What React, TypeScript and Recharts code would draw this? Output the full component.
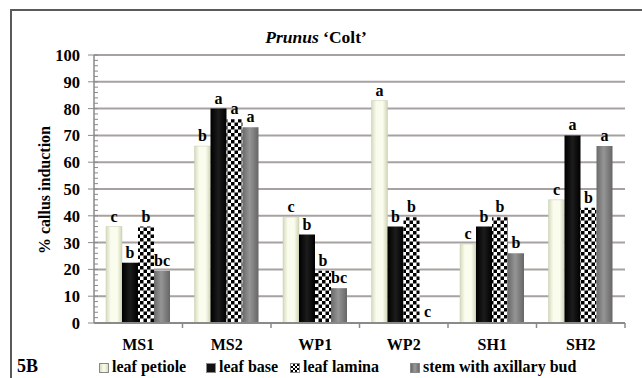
import { Bar, BarChart, CartesianGrid, LabelList, XAxis, YAxis } from 'recharts'

const categories = ['MS1', 'MS2', 'WP1', 'WP2', 'SH1', 'SH2']
const petiole = [36, 66, 39.5, 83, 29.5, 46]
const base = [22.5, 80, 33, 36, 36, 70]
const lamina = [36, 76, 19.5, 39.5, 39.5, 43]
const stem = [19.5, 73, 13, 0, 26, 66]
const petioleSig = ['c', 'b', 'c', 'a', 'c', 'c']
const baseSig = ['b', 'a', 'b', 'b', 'b', 'a']
const laminaSig = ['b', 'a', 'b', 'b', 'b', 'b']
const stemSig = ['bc', 'a', 'bc', 'c', 'b', 'a']
const yTicks = Array.from({ length: 51 }, (_, i) => i * 2)
const gridValues = [0, 10, 20, 30, 40, 50, 60, 70, 80, 90, 100]

const W = 642
const H = 378
const PLOT_LEFT = 94
const PLOT_RIGHT = 625
const PLOT_BOTTOM = 323
const X_AXIS_H = 30
const STEP = (PLOT_RIGHT - PLOT_LEFT) / categories.length
const FONT = '"Liberation Serif", "DejaVu Serif", serif'

const data = categories.map((name, i) => ({
  name,
  petiole: petiole[i],
  base: base[i],
  lamina: lamina[i],
  stem: stem[i],
  petioleSig: petioleSig[i],
  baseSig: baseSig[i],
  laminaSig: laminaSig[i],
  stemSig: stemSig[i],
}))

const labelStyle = { fill: '#000', fontWeight: 700, fontSize: 16, fontFamily: FONT }

function YTick({ x, y, payload }: any) {
  const major = payload.value % 10 === 0
  return (
    <g>
      <line x1={major ? x - 6 : x} x2={x + 4} y1={y} y2={y} stroke="#8a8a8a" strokeWidth={1} />
      {major && (
        <text x={x - 14} y={y} dy={6} textAnchor="end" style={{ ...labelStyle, fontSize: 16.5 }}>
          {payload.value}
        </text>
      )}
    </g>
  )
}

function XTick({ x, y, payload }: any) {
  return (
    <g>
      <line x1={x + STEP / 2} x2={x + STEP / 2} y1={y} y2={y + 5} stroke="#8a8a8a" strokeWidth={1.5} />
      <text x={x} y={y + 27} textAnchor="middle" style={labelStyle}>
        {payload.value}
      </text>
    </g>
  )
}

function Swatch({ kind }: { kind: string }) {
  const bg: Record<string, string> = {
    petiole: 'linear-gradient(90deg,#d9ddc0,#fbfdf0,#d9ddc0)',
    base: '#111',
    lamina: 'repeating-conic-gradient(#000 0 25%, #fff 0 50%) 0 0/4px 4px',
    stem: 'linear-gradient(90deg,#6a6a6a,#9a9a9a,#6a6a6a)',
  }
  return (
    <span
      style={{
        display: 'inline-block',
        width: 8,
        height: 8,
        marginRight: 3,
        background: bg[kind],
        border: '1px solid #888',
        verticalAlign: 'middle',
      }}
    />
  )
}

const legendItems = [
  { kind: 'petiole', label: 'leaf petiole', left: 99 },
  { kind: 'base', label: 'leaf base', left: 206 },
  { kind: 'lamina', label: 'leaf lamina', left: 290 },
  { kind: 'stem', label: 'stem with axillary bud', left: 410 },
]

export default function App() {
  return (
    <div style={{ position: 'absolute', left: 0, top: 0, width: W, height: H, background: '#fff', overflow: 'hidden', fontFamily: FONT }}>
      <div style={{ position: 'absolute', left: 10, top: 9, width: 700, height: 400, borderTop: '2px solid #5a5a5a', borderLeft: '2px solid #5a5a5a' }} />
      <BarChart
        width={W}
        height={H}
        data={data}
        margin={{ top: 55, right: W - PLOT_RIGHT, bottom: H - PLOT_BOTTOM - X_AXIS_H, left: 14 }}
        barCategoryGap={12}
        barGap={0}
      >
        <defs>
          <linearGradient id="gPetiole" x1="0" y1="0" x2="1" y2="0">
            <stop offset="0%" stopColor="#d6dbbd" />
            <stop offset="30%" stopColor="#fafcee" />
            <stop offset="70%" stopColor="#fafcee" />
            <stop offset="100%" stopColor="#d0d5b5" />
          </linearGradient>
          <linearGradient id="gBase" x1="0" y1="0" x2="1" y2="0">
            <stop offset="0%" stopColor="#000" />
            <stop offset="50%" stopColor="#1c1c1c" />
            <stop offset="100%" stopColor="#000" />
          </linearGradient>
          <linearGradient id="gStem" x1="0" y1="0" x2="1" y2="0">
            <stop offset="0%" stopColor="#6a6a6a" />
            <stop offset="45%" stopColor="#959595" />
            <stop offset="100%" stopColor="#666" />
          </linearGradient>
          <pattern id="pLamina" width={7} height={7} patternUnits="userSpaceOnUse">
            <rect width={7} height={7} fill="#fff" />
            <rect width={3.5} height={3.5} fill="#000" />
            <rect x={3.5} y={3.5} width={3.5} height={3.5} fill="#000" />
          </pattern>
        </defs>
        <CartesianGrid vertical={false} horizontalValues={gridValues} stroke="#a8a1a1" strokeWidth={2} />
        <XAxis
          dataKey="name"
          height={X_AXIS_H}
          axisLine={{ stroke: '#8a8a8a', strokeWidth: 2 }}
          tickLine={false}
          tickSize={0}
          tickMargin={0}
          tick={<XTick />}
          interval={0}
        />
        <YAxis
          width={80}
          domain={[0, 100]}
          ticks={yTicks}
          interval={0}
          axisLine={{ stroke: '#8a8a8a', strokeWidth: 1.5 }}
          tickLine={false}
          tickSize={0}
          tickMargin={0}
          tick={<YTick />}
        />
        <Bar dataKey="petiole" fill="url(#gPetiole)" stroke="#c8ccb0" strokeWidth={0.5} isAnimationActive={false}>
          <LabelList dataKey="petioleSig" position="top" style={labelStyle} />
        </Bar>
        <Bar dataKey="base" fill="url(#gBase)" isAnimationActive={false}>
          <LabelList dataKey="baseSig" position="top" style={labelStyle} />
        </Bar>
        <Bar dataKey="lamina" fill="url(#pLamina)" isAnimationActive={false}>
          <LabelList dataKey="laminaSig" position="top" style={labelStyle} />
        </Bar>
        <Bar dataKey="stem" fill="url(#gStem)" minPointSize={1} isAnimationActive={false}>
          <LabelList dataKey="stemSig" position="top" style={labelStyle} />
        </Bar>
      </BarChart>
      <div style={{ position: 'absolute', left: 0, width: W - 10, top: 27, textAlign: 'center', fontSize: 17.5, fontWeight: 700, lineHeight: '20px' }}>
        <i>Prunus</i> ‘Colt’
      </div>
      <div
        style={{
          position: 'absolute',
          left: 45,
          top: 190,
          transform: 'translate(-50%, -50%) rotate(-90deg)',
          whiteSpace: 'nowrap',
          fontSize: 16,
          fontWeight: 700,
        }}
      >
        % callus induction
      </div>
      <div style={{ position: 'absolute', left: 17, top: 356, fontSize: 18, fontWeight: 700, lineHeight: '20px' }}>5B</div>
      {legendItems.map((item) => (
        <div
          key={item.kind}
          style={{ position: 'absolute', left: item.left, top: 357, fontSize: 16, fontWeight: 700, lineHeight: '20px', whiteSpace: 'nowrap' }}
        >
          <Swatch kind={item.kind} />
          {item.label}
        </div>
      ))}
    </div>
  )
}
